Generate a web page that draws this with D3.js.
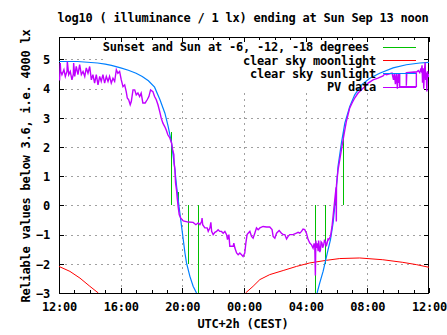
<!DOCTYPE html>
<html><head><meta charset="utf-8">
<script src="https://cdn.jsdelivr.net/npm/d3@7"></script>
<style>
html,body{margin:0;padding:0;background:#fff;}
svg{display:block;}
text{font-family:"DejaVu Sans Mono",monospace;font-weight:bold;font-size:12px;letter-spacing:-0.22px;fill:#000;}
</style></head><body>
<script>
// ---------- texts ----------
const titleText = "log10 ( illuminance / 1 lx) ending at Sun Sep 13 noon";
const xLabelText = "UTC+2h (CEST)";
const yLabelText = "Reliable values below 3.6, i.e. 4000 lx";
const legendLabels = ["Sunset and Sun at -6, -12, -18 degrees ", "clear sky moonlight", "clear sky sunlight", "PV data"];

// ---------- axes (x in hours after Sat 12:00) ----------
const xTickHours = [0, 4, 8, 12, 16, 20, 24];
const xTickLabels = ["12:00", "16:00", "20:00", "00:00", "04:00", "08:00", "12:00"];
const xMinorHours = d3.range(0, 25, 1);
const yTicks = [-3, -2, -1, 0, 1, 2, 3, 4, 5];

// ---------- sunset / twilight markers ----------
const twilightHours  = [7.24, 7.73, 8.38, 9.03, 16.61, 17.28, 17.93, 18.43];
const twilightLevels = [2.5, 0.45, -2.0, -3.0, -3.0, -2.0, 0.45, 2.5];

// ---------- clear sky moonlight ----------
const moonEveningHours = [0, 0.71, 1.36, 2.0, 2.55];
const moonEveningVals  = [-2.09, -2.26, -2.49, -2.77, -3.0];
const moonMorningHours = [12.1, 12.59, 13.03, 13.67, 14.54, 15.4, 16.27, 17.35, 18.21, 19.5, 21.0, 22.3, 23.2, 24.0];
const moonMorningVals  = [-3.0, -2.77, -2.54, -2.37, -2.23, -2.09, -1.97, -1.88, -1.82, -1.80, -1.86, -1.95, -2.03, -2.12];

// ---------- clear sky sunlight ----------
const sunEveningHours = [0, 1.2, 2.5, 3.0, 3.4, 4.0, 4.5, 5.0, 5.4, 5.8, 6.2, 6.55, 6.87, 7.08, 7.3, 7.41, 7.52, 7.63, 7.73, 7.84, 7.95, 8.06, 8.17, 8.27, 8.49, 8.7, 8.92];
const sunEveningVals  = [4.93, 4.93, 4.88, 4.84, 4.8, 4.71, 4.63, 4.53, 4.42, 4.27, 4.05, 3.62, 3.16, 2.71, 2.14, 1.68, 1.22, 0.65, 0.2, -0.26, -0.72, -1.17, -1.63, -1.97, -2.43, -2.77, -3.0];
const sunMorningHours = [16.74, 16.91, 17.13, 17.28, 17.45, 17.61, 17.78, 17.95, 18.1, 18.32, 18.54, 18.86, 19.18, 19.62, 20.16, 20.8, 21.67, 22.53, 23.4, 24.0];
const sunMorningVals  = [-3.0, -2.66, -2.26, -1.92, -1.52, -1.17, -0.6, 0.3, 1.34, 2.14, 2.82, 3.39, 3.79, 4.13, 4.36, 4.53, 4.71, 4.82, 4.88, 4.9];

// ---------- PV data ----------
const pvHours = [0.0,0.04,0.08,0.11,0.19,0.32,0.41,0.52,0.54,0.63,0.73,0.84,0.93,0.95,1.02,1.12,1.23,1.34,1.45,1.56,1.67,1.77,1.88,1.99,2.1,2.2,2.31,2.42,2.53,2.64,2.74,2.85,2.96,3.07,3.18,3.28,3.39,3.5,3.61,3.72,3.82,3.93,4.04,4.15,4.26,4.36,4.43,4.52,4.62,4.69,4.8,4.91,5.01,5.12,5.23,5.33,5.44,5.59,5.72,5.83,5.94,6.09,6.2,6.31,6.42,6.53,6.63,6.74,6.85,6.95,7.06,7.19,7.3,7.37,7.45,7.47,7.52,7.56,7.63,7.67,7.73,7.8,7.89,8.06,8.38,8.7,8.88,9.03,9.14,9.25,9.28,9.32,9.46,9.61,9.68,9.79,9.85,9.9,10.0,10.11,10.22,10.32,10.43,10.54,10.65,10.76,10.87,10.93,11.02,11.08,11.19,11.3,11.34,11.41,11.52,11.62,11.73,11.84,11.94,12.05,12.12,12.2,12.27,12.38,12.49,12.59,12.7,12.81,12.92,13.03,13.24,13.46,13.67,13.82,13.89,14.0,14.11,14.28,14.43,14.54,14.65,14.76,14.86,14.97,15.18,15.4,15.51,15.62,15.73,15.83,15.94,16.05,16.16,16.27,16.38,16.48,16.55,16.59,16.63,16.66,16.7,16.75,16.81,16.84,16.87,16.92,16.96,17.0,17.06,17.1,17.17,17.22,17.28,17.33,17.39,17.45,17.5,17.61,17.71,17.82,17.89,17.95,17.97,17.99,18.0,18.1,18.21,18.32,18.43,18.54,18.64,18.75,18.86,19.01,19.18,19.4,19.62,19.83,20.05,20.37,20.69,21.02,21.13,21.24,21.45,21.6,21.7,21.75,21.82,21.88,21.95,22.0,22.05,22.1,22.1,23.18,23.18,22.53,22.53,22.56,23.22,23.3,23.4,23.45,23.5,23.55,23.58,23.62,23.66,23.7,23.75,23.78,23.82,23.86,23.9,23.95,24.0];
const pvVals  = [4.3,4.3,4.88,4.6,4.48,4.65,4.42,4.6,4.93,4.48,4.59,4.3,4.5,4.88,4.42,4.76,4.48,4.82,4.48,4.59,4.42,4.71,4.53,4.76,4.3,4.48,4.19,4.48,4.13,4.42,4.25,4.48,4.19,4.42,4.25,4.42,4.19,4.36,4.25,4.65,4.53,4.59,4.3,4.07,4.13,3.9,3.68,3.62,3.45,3.56,3.96,3.96,3.79,3.85,3.73,3.85,3.51,3.51,3.62,3.73,3.96,3.9,3.73,3.62,3.45,3.22,2.99,2.82,2.71,2.59,2.42,2.31,2.14,1.91,1.74,1.45,1.22,0.77,0.5,0.25,-0.05,-0.32,-0.43,-0.53,-0.57,-0.58,-0.66,-0.6,-0.66,-0.55,-0.43,-0.66,-0.77,-0.77,-0.89,-0.77,-0.58,-0.89,-1.0,-0.92,-0.89,-0.83,-0.89,-0.89,-0.95,-0.89,-1.0,-1.17,-1.0,-1.4,-1.4,-1.4,-1.29,-1.46,-1.63,-1.69,-1.63,-1.69,-1.75,-1.63,-1.29,-1.0,-0.95,-0.89,-1.06,-1.12,-0.95,-0.77,-0.83,-0.77,-0.72,-0.74,-0.74,-0.83,-1.06,-1.12,-0.95,-0.86,-0.95,-1.0,-1.0,-1.15,-1.06,-1.0,-1.0,-0.95,-0.92,-0.95,-0.89,-0.81,-0.83,-0.95,-1.17,-1.29,-1.35,-1.46,-1.3,-1.4,-2.4,-1.2,-1.45,-1.3,-1.57,-1.2,-1.35,-1.6,-1.52,-1.25,-1.29,-1.45,-1.35,-1.2,-1.23,-1.4,-1.29,-1.15,-1.17,-1.06,-0.72,-0.15,0.2,0.5,0.62,-0.55,0.7,1.22,1.56,1.91,2.25,2.59,2.88,3.11,3.34,3.51,3.68,3.85,3.96,4.07,4.19,4.3,4.36,4.44,4.51,4.48,4.51,4.53,4.3,4.53,4.15,4.53,4.0,4.5,4.2,4.53,4.07,4.07,4.55,4.55,4.1,4.55,4.58,4.62,4.55,4.65,4.6,4.8,4.2,4.7,4.0,4.6,4.9,4.3,4.55,3.9,4.6,4.4,4.5];

// ---------- colours ----------
const colGreen = "#00c000", colRed = "#ff0000", colBlue = "#0080ff", colPurple = "#c000ff";

const W = 447, H = 335;
const L = 59, R = 429, T = 37, B = 293;
const x = d3.scaleLinear().domain([0, 24]).range([L, R]);
const y = d3.scaleLinear().domain([-3, 5.77]).range([B, T]);

const svg = d3.select("body").append("svg").attr("width", W).attr("height", H);
svg.append("rect").attr("width", W).attr("height", H).attr("fill", "#fff");

svg.append("defs").append("clipPath").attr("id", "clip")
  .append("rect").attr("x", L).attr("y", T).attr("width", R - L).attr("height", B - T);

// grid
const grid = svg.append("g").attr("stroke", "#a0a0a0").attr("stroke-dasharray", "2,4")
  .attr("shape-rendering", "crispEdges").attr("stroke-width", 1);
xTickHours.filter(h => h > 0 && h < 24).forEach(h => {
  grid.append("line").attr("x1", Math.round(x(h)) + 0.5).attr("x2", Math.round(x(h)) + 0.5)
    .attr("y1", B).attr("y2", T);
});
yTicks.filter(v => v > -3).forEach(v => {
  grid.append("line").attr("y1", Math.round(y(v)) + 0.5).attr("y2", Math.round(y(v)) + 0.5)
    .attr("x1", L).attr("x2", R);
});

// opaque key area
svg.append("rect").attr("x", 104).attr("y", T).attr("width", R - 104).attr("height", 54.5).attr("fill", "#fff");

// axes with d3
const axB = d3.axisBottom(x).tickValues(xMinorHours).tickSize(-3).tickFormat("");
const axT = d3.axisTop(x).tickValues(xMinorHours).tickSize(-3).tickFormat("");
const axBM = d3.axisBottom(x).tickValues(xTickHours).tickSize(-5).tickPadding(9)
  .tickFormat((d, i) => xTickLabels[i]);
const axTM = d3.axisTop(x).tickValues(xTickHours).tickSize(-5).tickFormat("");
const axL = d3.axisLeft(y).tickValues(yTicks).tickSize(-5).tickPadding(9).tickFormat(d3.format("d"));
const axR = d3.axisRight(y).tickValues(yTicks).tickSize(-5).tickFormat("");

function styleAxis(g) {
  g.attr("shape-rendering", "crispEdges");
  g.select(".domain").remove();
  g.selectAll("line").attr("stroke", "#000");
  g.selectAll("text").attr("font-family", null).attr("font-size", null).attr("fill", "#000");
}
svg.append("g").attr("transform", `translate(0,${B})`).call(axB).call(styleAxis);
svg.append("g").attr("transform", `translate(0,${T})`).call(axT).call(styleAxis);
svg.append("g").attr("transform", `translate(0,${B})`).call(axTM.scale(x)).call(g => {}).remove();
svg.append("g").attr("transform", `translate(0,${B})`).call(axBM).call(styleAxis)
  .selectAll("text").attr("dy", "0.71em");
svg.append("g").attr("transform", `translate(0,${T})`).call(axTM).call(styleAxis);
svg.append("g").attr("transform", `translate(${L},0)`).call(axL).call(styleAxis)
  .selectAll("text").attr("dy", "0.36em");
svg.append("g").attr("transform", `translate(${R},0)`).call(axR).call(styleAxis);

// border
svg.append("rect").attr("x", L + 0.5).attr("y", T + 0.5).attr("width", R - L - 1).attr("height", B - T)
  .attr("fill", "none").attr("stroke", "#000").attr("shape-rendering", "crispEdges");

// data
const plot = svg.append("g").attr("clip-path", "url(#clip)");
const line = d3.line().x(d => x(d[0])).y(d => y(d[1]));
const zip = (a, b) => a.map((h, i) => [h, b[i]]);

twilightHours.forEach((h, i) => {
  plot.append("line").attr("x1", Math.round(x(h)) + 0.5).attr("x2", Math.round(x(h)) + 0.5)
    .attr("y1", y(0)).attr("y2", y(twilightLevels[i]))
    .attr("stroke", colGreen).attr("stroke-width", 1).attr("shape-rendering", "crispEdges");
});
[zip(moonEveningHours, moonEveningVals), zip(moonMorningHours, moonMorningVals)].forEach(d => {
  plot.append("path").attr("d", line(d)).attr("fill", "none").attr("stroke", colRed).attr("stroke-width", 1);
});
[zip(sunEveningHours, sunEveningVals), zip(sunMorningHours, sunMorningVals)].forEach(d => {
  plot.append("path").attr("d", line(d)).attr("fill", "none").attr("stroke", colBlue).attr("stroke-width", 1.2);
});
plot.append("path").attr("d", line(zip(pvHours, pvVals))).attr("fill", "none")
  .attr("stroke", colPurple).attr("stroke-width", 1.4).attr("stroke-linejoin", "miter");

// legend
const legCols = [colGreen, colRed, colBlue, colPurple];
legendLabels.forEach((t, i) => {
  const yy = 47 + i * 13.2;
  svg.append("text").attr("x", 376).attr("y", yy + 4.3).attr("text-anchor", "end")
    .style("white-space", "pre").text(t);
  svg.append("line").attr("x1", 383).attr("x2", 416).attr("y1", Math.round(yy) + 0.5).attr("y2", Math.round(yy) + 0.5)
    .attr("stroke", legCols[i]).attr("stroke-width", 1).attr("shape-rendering", "crispEdges");
});

// titles
svg.append("text").attr("x", 243).attr("y", 22).attr("text-anchor", "middle").text(titleText);
svg.append("text").attr("x", 243).attr("y", 328).attr("text-anchor", "middle").text(xLabelText);
svg.append("text").attr("transform", "translate(30,166) rotate(-90)").attr("text-anchor", "middle").text(yLabelText);
</script>
</body></html>
